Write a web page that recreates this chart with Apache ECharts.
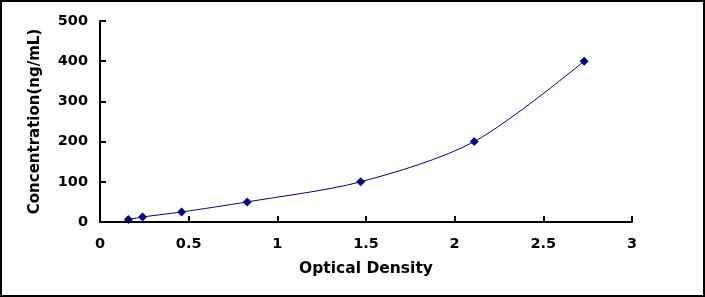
<!DOCTYPE html>
<html lang="en">
<head>
    <meta charset="UTF-8">
    <title>Standard Curve</title>
    <script src="https://cdn.jsdelivr.net/npm/echarts@6.0.0/dist/echarts.min.js"></script>
    <style>
        html, body { margin: 0; padding: 0; background: #fff; }
        #chart { width: 705px; height: 297px; box-sizing: border-box; border: 2px solid #000; }
    </style>
</head>
<body>
    <div id="chart"></div>
    <script>
        // optical density readings and the matching standard concentrations
        const od = [0.16, 0.24, 0.46, 0.83, 1.47, 2.11, 2.73]
        const conc = [6.25, 12.5, 25, 50, 100, 200, 400]

        const chart = echarts.init(document.getElementById('chart'))

        const font = 'DejaVu Sans, Verdana, sans-serif'

        const option = {
            animation: false,
            grid: { left: 98, top: 19, right: 71, bottom: 73 },
            xAxis: {
                type: 'value',
                min: 0, max: 3, interval: 0.5,
                name: 'Optical Density',
                nameLocation: 'middle',
                nameGap: 39,
                nameTextStyle: { fontFamily: font, fontWeight: 'bold', fontSize: 15.5, color: '#000' },
                axisLine: { onZero: false, lineStyle: { color: '#000', width: 2 } },
                axisTick: { inside: true, length: 6, lineStyle: { color: '#000', width: 2 } },
                axisLabel: { margin: 15, fontFamily: font, fontWeight: 'bold', fontSize: 14.5, color: '#000' },
                splitLine: { show: false }
            },
            yAxis: {
                type: 'value',
                min: 0, max: 500, interval: 100,
                name: 'Concentration(ng/mL)',
                nameLocation: 'middle',
                nameGap: 57,
                nameTextStyle: { fontFamily: font, fontWeight: 'bold', fontSize: 15, color: '#000' },
                axisLine: { show: true, lineStyle: { color: '#000', width: 2 } },
                axisTick: { show: true, inside: true, length: 6, lineStyle: { color: '#000', width: 2 } },
                axisLabel: { margin: 12, fontFamily: font, fontWeight: 'bold', fontSize: 14.5, color: '#000' },
                splitLine: { show: false }
            },
            series: [{
                type: 'line',
                data: od.map((x, i) => [x, conc[i]]),
                smooth: 0.3,
                symbol: 'diamond',
                symbolSize: 9,
                itemStyle: { color: '#000080' },
                lineStyle: { color: '#000080', width: 1 }
            }]
        }

        chart.setOption(option)
    </script>
</body>
</html>
